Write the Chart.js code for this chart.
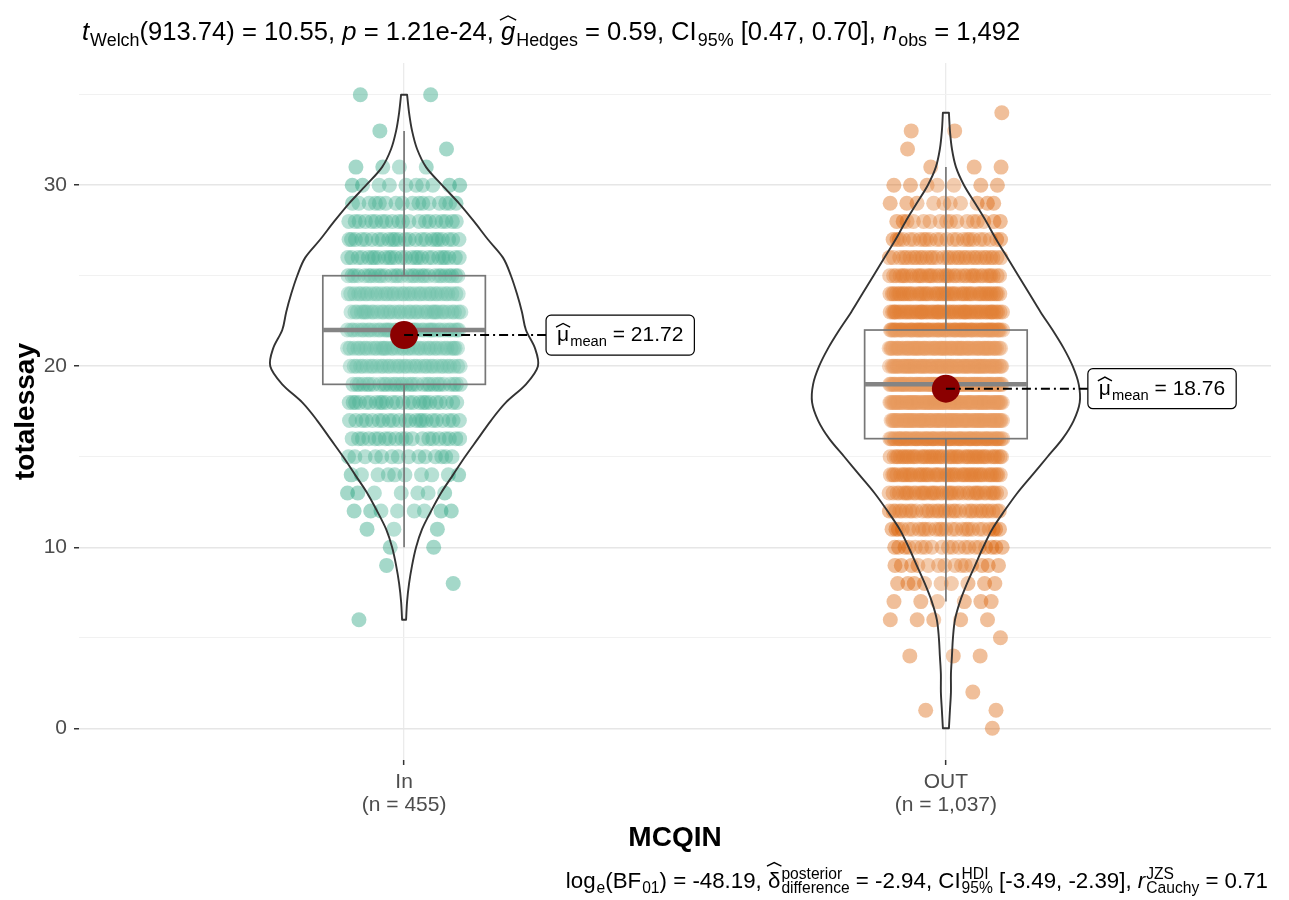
<!DOCTYPE html>
<html>
<head>
<meta charset="utf-8">
<script src="https://cdn.jsdelivr.net/npm/chart.js@4.4.0/dist/chart.umd.min.js"></script>
<style>
html,body{margin:0;padding:0;background:#fff;}
#wrap{width:1289px;height:900px;position:relative;}
</style>
</head>
<body>
<div id="wrap"><canvas id="c" width="1289" height="900"></canvas></div>
<script>
// ---------------- data ----------------
const categories = ['In', 'OUT'];
const groupN = ['455', '1,037'];
const yTicks = [0, 10, 20, 30];
const yGrid = [0, 5, 10, 15, 20, 25, 30, 35];

// essay scores 0..35 and number of students at each score (read from the dot rows)
const scoreValues = [0,1,2,3,4,5,6,7,8,9,10,11,12,13,14,15,16,17,18,19,20,21,22,23,24,25,26,27,28,29,30,31,32,33,34,35];
const countsIn  = [0,0,0,0,0,0,1,0,1,1,2,3,8,7,10,14,20,22,24,30,34,36,38,36,34,30,26,24,20,16,10,4,1,1,0,2];
const countsOut = [1,2,1,0,3,1,5,6,9,14,20,26,32,40,48,50,68,80,83,80,78,72,72,60,50,40,32,24,16,10,7,3,1,2,1,0];

// violin outline (relative density) at each score
const violinValuesIn  = [6,7,8,9,10,11,12,13,14,15,16,17,18,19,20,21,22,23,24,25,26,27,28,29,30,31,32,33,34,35];
const violinDensityIn = [2,3,5,8,12,18,27,37,49,61,74,87,102,122,134,131,122,118,113,107,99,84,70,55,38,22,13,8,5,3];
const violinValuesOut  = [0,1,2,3,4,5,6,7,8,9,10,11,12,13,14,15,16,17,18,19,20,21,22,23,24,25,26,27,28,29,30,31,32,33,34];
const violinDensityOut = [3,4,5,5,6,7,9,14,21,29,37,46,58,71,86,101,116,127,133,132,126,117,106,94,83,72,61,50,40,29,18,10,6,4,3];

// box plot statistics
const boxLower  = [10, 7];
const boxQ1     = [19, 16];
const boxMedian = [22, 19];
const boxQ3     = [25, 22];
const boxUpper  = [33, 31];
const groupMeans = [21.72, 18.76];

// ---------------- styling ----------------
const FONT = '"Liberation Sans", Arial, Helvetica, sans-serif';
const pointColors = ['rgba(27,158,119,0.4)', 'rgba(217,95,2,0.4)'];
const JITTER = 0.105, BOX_HALF = 0.15, VIOLIN_HALF = 0.247, LABEL_OFFSET = 0.262;

function jitterOffset(i, v, g) {
  const f = ((i + 1) * 0.6180339887 + v * 0.4142135 + g * 0.29) % 1;
  return (f - 0.5) * 2 * JITTER;
}
function buildPoints(counts, g) {
  const pts = [];
  scoreValues.forEach((v, k) => {
    for (let i = 0; i < counts[k]; i++) pts.push({ x: g + 1 + jitterOffset(i, v, g), y: v });
  });
  return pts;
}

function crPath(c, pts) {
  for (let i = 0; i < pts.length - 1; i++) {
    const p0 = pts[i - 1] || pts[i], p1 = pts[i], p2 = pts[i + 1], p3 = pts[i + 2] || p2;
    c.bezierCurveTo(p1.x + (p2.x - p0.x) / 6, p1.y + (p2.y - p0.y) / 6,
                    p2.x - (p3.x - p1.x) / 6, p2.y - (p3.y - p1.y) / 6, p2.x, p2.y);
  }
}

function drawHat(c, x, w, yb, h) {
  c.save();
  c.beginPath();
  c.lineWidth = 1.4;
  c.strokeStyle = '#000';
  c.moveTo(x, yb);
  c.lineTo(x + w / 2, yb - h);
  c.lineTo(x + w, yb);
  c.stroke();
  c.restore();
}

function segWidth(c, s, size) {
  c.font = (s.it ? 'italic ' : '') + size + 'px ' + FONT;
  const w = c.measureText(s.t || '').width;
  c.font = (size * 0.7) + 'px ' + FONT;
  let w2 = 0;
  if (s.sub) w2 = Math.max(w2, c.measureText(s.sub).width);
  if (s.sup) w2 = Math.max(w2, c.measureText(s.sup).width);
  return w + (w2 ? w2 + 1 : 0);
}
function drawRich(c, segs, x, y, size, align) {
  const total = segs.reduce((a, s) => a + segWidth(c, s, size), 0);
  let cx = align === 'right' ? x - total : x;
  c.save();
  c.textBaseline = 'alphabetic';
  c.textAlign = 'left';
  c.fillStyle = '#000';
  segs.forEach(s => {
    c.font = (s.it ? 'italic ' : '') + size + 'px ' + FONT;
    const t = s.t || '';
    const w = c.measureText(t).width;
    c.fillText(t, cx, y);
    if (s.hat) drawHat(c, cx - 1, w + 2, y - size * s.hat, size * 0.16);
    cx += w;
    c.font = (size * 0.7) + 'px ' + FONT;
    let w2 = 0;
    if (s.sub) { c.fillText(s.sub, cx + 1, y + size * 0.24); w2 = Math.max(w2, c.measureText(s.sub).width); }
    if (s.sup) { c.fillText(s.sup, cx + 1, y - size * 0.42); w2 = Math.max(w2, c.measureText(s.sup).width); }
    cx += w2 ? w2 + 1 : 0;
  });
  c.restore();
}

const titleSegs = [
  { t: 't', it: true, sub: 'Welch' }, { t: '(913.74) = 10.55, ' }, { t: 'p', it: true },
  { t: ' = 1.21e-24, ' }, { t: 'g', it: true, hat: 0.78, sub: 'Hedges' },
  { t: ' = 0.59, CI', sub: '95%' }, { t: ' [0.47, 0.70], ' }, { t: 'n', it: true, sub: 'obs' }, { t: ' = 1,492' }
];
const captionSegs = [
  { t: 'log', sub: 'e' }, { t: '(BF', sub: '01' }, { t: ') = -48.19, ' },
  { t: 'δ', hat: 0.98, sup: 'posterior', sub: 'difference' }, { t: ' = -2.94, CI', sup: 'HDI', sub: '95%' },
  { t: ' [-3.49, -2.39], ' }, { t: 'r', it: true, sup: 'JZS', sub: 'Cauchy' }, { t: ' = 0.71' }
];

const overlay = {
  id: 'overlay',
  afterDatasetsDraw(chart) {
    const c = chart.ctx, xs = chart.scales.x, ys = chart.scales.y;
    const vVals = [violinValuesIn, violinValuesOut];
    const vDens = [violinDensityIn, violinDensityOut];
    for (let g = 0; g < 2; g++) {
      const cxv = g + 1;
      // box plot
      const l = xs.getPixelForValue(cxv - BOX_HALF), r = xs.getPixelForValue(cxv + BOX_HALF);
      const cpx = xs.getPixelForValue(cxv);
      const yq1 = ys.getPixelForValue(boxQ1[g]), yq3 = ys.getPixelForValue(boxQ3[g]);
      const ymed = ys.getPixelForValue(boxMedian[g]);
      c.save();
      c.fillStyle = 'rgba(255,255,255,0.2)';
      c.fillRect(l, yq3, r - l, yq1 - yq3);
      c.strokeStyle = '#555555';
      c.lineWidth = 1.7;
      c.strokeRect(l, yq3, r - l, yq1 - yq3);
      c.beginPath();
      c.moveTo(cpx, yq3); c.lineTo(cpx, ys.getPixelForValue(boxUpper[g]));
      c.moveTo(cpx, yq1); c.lineTo(cpx, ys.getPixelForValue(boxLower[g]));
      c.stroke();
      c.beginPath();
      c.lineWidth = 4.5;
      c.strokeStyle = '#666666';
      c.moveTo(l, ymed); c.lineTo(r, ymed);
      c.stroke();
      c.restore();

      // violin
      const vals = vVals[g], dens = vDens[g];
      const mx = Math.max(...dens);
      const right = vals.map((v, k) => ({ x: xs.getPixelForValue(cxv + dens[k] / mx * VIOLIN_HALF), y: ys.getPixelForValue(v) }));
      const left = vals.map((v, k) => ({ x: xs.getPixelForValue(cxv - dens[k] / mx * VIOLIN_HALF), y: ys.getPixelForValue(v) })).reverse();
      c.save();
      c.beginPath();
      c.moveTo(left[left.length - 1].x, left[left.length - 1].y);
      c.lineTo(right[0].x, right[0].y);
      crPath(c, right);
      c.lineTo(left[0].x, left[0].y);
      crPath(c, left);
      c.closePath();
      c.fillStyle = 'rgba(255,255,255,0.2)';
      c.fill();
      c.strokeStyle = '#333333';
      c.lineWidth = 1.9;
      c.lineJoin = 'round';
      c.stroke();
      c.restore();

      // mean point, connector and label
      const my = ys.getPixelForValue(groupMeans[g]);
      const lx = xs.getPixelForValue(cxv + LABEL_OFFSET);
      c.save();
      c.beginPath();
      c.arc(cpx, my, 14, 0, Math.PI * 2);
      c.fillStyle = '#8B0000';
      c.fill();
      c.beginPath();
      c.setLineDash([9, 4, 2, 4]);
      c.lineWidth = 2;
      c.strokeStyle = '#000';
      c.moveTo(cpx, my); c.lineTo(lx, my);
      c.stroke();
      c.setLineDash([]);
      // label box
      const size = 21;
      c.font = size + 'px ' + FONT;
      const muW = c.measureText('μ').width;
      const rest = ' = ' + groupMeans[g].toFixed(2);
      const restW = c.measureText(rest).width;
      c.font = (size * 0.7) + 'px ' + FONT;
      const subW = c.measureText('mean').width;
      const pad = 11;
      const W = pad * 2 + muW + subW + restW + 1, H = 40;
      c.beginPath();
      c.roundRect(lx, my - H / 2, W, H, 5);
      c.fillStyle = '#fff';
      c.fill();
      c.lineWidth = 1.2;
      c.strokeStyle = '#000';
      c.stroke();
      c.fillStyle = '#000';
      c.textBaseline = 'alphabetic';
      c.textAlign = 'left';
      const by = my + 6;
      let tx = lx + pad;
      c.font = size + 'px ' + FONT;
      c.fillText('μ', tx, by);
      drawHat(c, tx - 1, muW + 2, by - size * 0.66, size * 0.18);
      tx += muW;
      c.font = (size * 0.7) + 'px ' + FONT;
      c.fillText('mean', tx + 1, by + 5);
      tx += subW + 1;
      c.font = size + 'px ' + FONT;
      c.fillText(rest, tx, by);
      c.restore();
    }
  },
  afterDraw(chart) {
    const c = chart.ctx;
    drawRich(c, titleSegs, 82, 40, 25.6, 'left');
    drawRich(c, captionSegs, 1268, 888, 22.3, 'right');
    c.save();
    c.fillStyle = '#000';
    c.font = 'bold 28px ' + FONT;
    c.textAlign = 'center';
    c.textBaseline = 'alphabetic';
    const a = chart.chartArea;
    c.fillText('MCQIN', (a.left + a.right) / 2, 846);
    c.translate(34, (a.top + a.bottom) / 2);
    c.rotate(-Math.PI / 2);
    c.fillText('totalessay', 0, 0);
    c.restore();
  }
};

new Chart(document.getElementById('c').getContext('2d'), {
  type: 'scatter',
  data: {
    datasets: categories.map((cat, g) => ({
      label: cat,
      data: buildPoints(g === 0 ? countsIn : countsOut, g),
      backgroundColor: pointColors[g],
      borderWidth: 0,
      pointRadius: 7.5
    }))
  },
  options: {
    responsive: false,
    animation: false,
    devicePixelRatio: 1,
    events: [],
    layout: { padding: { top: 63, right: 18, left: 0, bottom: 0 } },
    plugins: { legend: { display: false }, tooltip: { enabled: false } },
    scales: {
      x: {
        type: 'linear', min: 0.4, max: 2.6,
        afterBuildTicks: s => { s.ticks = categories.map((c, i) => ({ value: i + 1 })); },
        afterFit: s => { s.height = 140; },
        ticks: {
          autoSkip: false, maxRotation: 0,
          callback: v => { const i = Math.round(v) - 1; return [categories[i], '(n = ' + groupN[i] + ')']; },
          font: { family: FONT, size: 21, lineHeight: 1.1 },
          color: '#4D4D4D', padding: 6
        },
        grid: { color: '#EBEBEB', lineWidth: 1.3, tickColor: '#333333', tickLength: 5, tickWidth: 1.5 },
        border: { display: false }
      },
      y: {
        type: 'linear', min: -1.75, max: 36.75,
        afterBuildTicks: s => { s.ticks = yGrid.map(v => ({ value: v })); },
        afterFit: s => { s.width = 79; },
        ticks: {
          autoSkip: false,
          callback: v => yTicks.includes(v) ? String(v) : '',
          font: { family: FONT, size: 21 },
          color: '#4D4D4D', padding: 7
        },
        grid: {
          color: ctx => (ctx.tick && yTicks.includes(ctx.tick.value)) ? '#E6E6E6' : '#F1F1F1',
          lineWidth: ctx => (ctx.tick && yTicks.includes(ctx.tick.value)) ? 1.5 : 1,
          tickColor: ctx => (ctx.tick && yTicks.includes(ctx.tick.value)) ? '#333333' : 'rgba(0,0,0,0)',
          tickLength: 5, tickWidth: 1.5
        },
        border: { display: false }
      }
    }
  },
  plugins: [overlay]
});
</script>
</body>
</html>
